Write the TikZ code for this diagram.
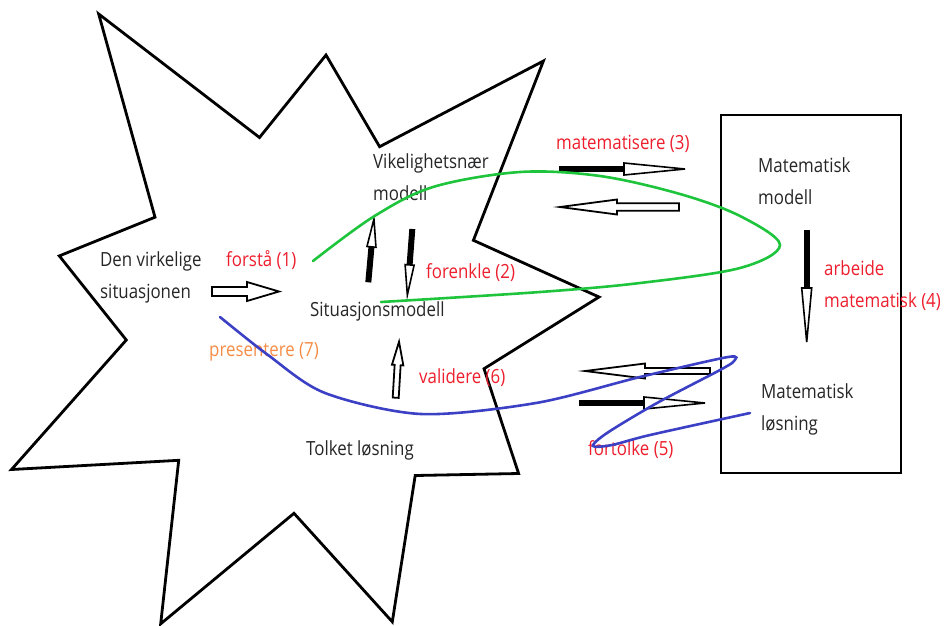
\documentclass[tikz,border=0pt]{standalone}
\usepackage{fontspec}
\setmainfont{Open Sans}[FakeStretch=0.865]
\begin{document}
\definecolor{lblred}{RGB}{237,30,45}
\definecolor{lblorange}{RGB}{245,140,70}
\definecolor{loopgreen}{RGB}{30,196,60}
\definecolor{loopblue}{RGB}{60,64,196}
\definecolor{txt}{RGB}{38,38,38}
\begin{tikzpicture}[x=1pt,y=-1pt,
  txtnode/.style={anchor=base west, inner sep=0pt, text=txt, align=left,
    font=\fontsize{19.5}{32}\selectfont},
  lbl/.style={txtnode, text=lblred},
  lblo/.style={txtnode, text=lblorange},
  outline/.style={draw=black, line width=2.8pt, line join=miter},
  scribble/.style={line width=2.6pt, line cap=round},
  pics/solidarr/.style args={#1/#2/#3/#4}{code={
    \fill[black] (0,-#3) rectangle (#2,#3);
    \draw[black, line width=1.6pt, fill=white, line join=miter]
      (#2,-#4) -- (#1,0) -- (#2,#4) -- cycle;
  }},
  pics/hollowarr/.style args={#1/#2/#3/#4}{code={
    \draw[black, line width=1.8pt, fill=white, line join=miter]
      (0,-#3) -- (#2,-#3) -- (#2,-#4) -- (#1,0) -- (#2,#4) -- (#2,#3) -- (0,#3) -- cycle;
  }},
]
\useasboundingbox (0,0) rectangle (944,625);

% the real world: a jagged burst
\draw[outline] (98.7,14) -- (259.5,137.5) -- (326,55) -- (379.6,146.7)
  -- (543.4,61) -- (473.4,240.3) -- (599,297) -- (484,368.7)
  -- (518.6,473.5) -- (415.2,475.5) -- (392.3,621.8) -- (294,513.3)
  -- (160.7,623.8) -- (178.7,460.3) -- (11.5,469.5) -- (126.3,340)
  -- (59.3,255.9) -- (155,217.2) -- cycle;

% the mathematical world
\draw[outline] (721,115) rectangle (901,473);

% texts (two-line nodes sit on the baseline of their last line)
\node[txtnode] (den) at (100,298.5) {Den virkelige\\situasjonen};
\node[lbl] (forsta) at (226,266.5) {forstå (1)};
\node[txtnode] (vik) at (373,200.5) {Vikelighetsnær\\modell};
\node[txtnode] (sitmod) at (310,316.5) {Situasjonsmodell};
\node[lbl] (forenkle) at (426,278.5) {forenkle (2)};
\node[lbl] (matiser) at (556,149.5) {matematisere (3)};
\node[txtnode] (matmod) at (758,204.5) {Matematisk\\modell};
\node[lbl] (arbeide) at (824,307.5) {arbeide\\matematisk (4)};
\node[txtnode] (matlos) at (761,430.5) {Matematisk\\løsning};
\node[lbl] (fortolke) at (588,455.5) {fortolke (5)};
\node[lbl] (validere) at (419,383.5) {validere (6)};
\node[lblo] (present) at (209,356.5) {presentere (7)};
\node[txtnode] (tolket) at (306,455.5) {Tolket løsning};

% block arrows
\pic[line width=2.5pt] at (212,291.5) {hollowarr=67/35/4.5/9.5};
\pic[rotate=84.9] at (368.3,282.3) {solidarr=63.6/35.6/3/4.5};
\pic[rotate=-94.3] at (412.3,229) {solidarr=66.2/36/3/4.5};
\pic at (559,169) {solidarr=126/65/3/6};
\pic[rotate=180] at (679,207) {hollowarr=119/62/3.7/7.5};
\pic[rotate=180] at (710,371) {hollowarr=125/65/3/7.5};
\pic at (579,403) {solidarr=126/65/3.3/6};
\pic[rotate=86.6] at (395.7,397.7) {hollowarr=56.1/32.7/3/5.7};
\pic[rotate=-90] at (806.7,230) {solidarr=112/58/3/5};

% hand-drawn loops
\draw[scribble, loopgreen] plot[smooth, tension=0.55] coordinates {
  (313,261) (373,217) (433,187) (520,172) (600,176) (680,194) (740,216)
  (780,245) (740,268) (640,283) (540,292) (381,302)};
\draw[scribble, loopblue] plot[smooth, tension=0.5] coordinates {
  (220,317) (268,355) (325,393) (421,414) (536,403) (640,377) (728,357)
  (734,361) (720,370) (657,403) (607,433) (593,446) (612,445) (650,435) (750,413)};
\end{tikzpicture}
\end{document}
